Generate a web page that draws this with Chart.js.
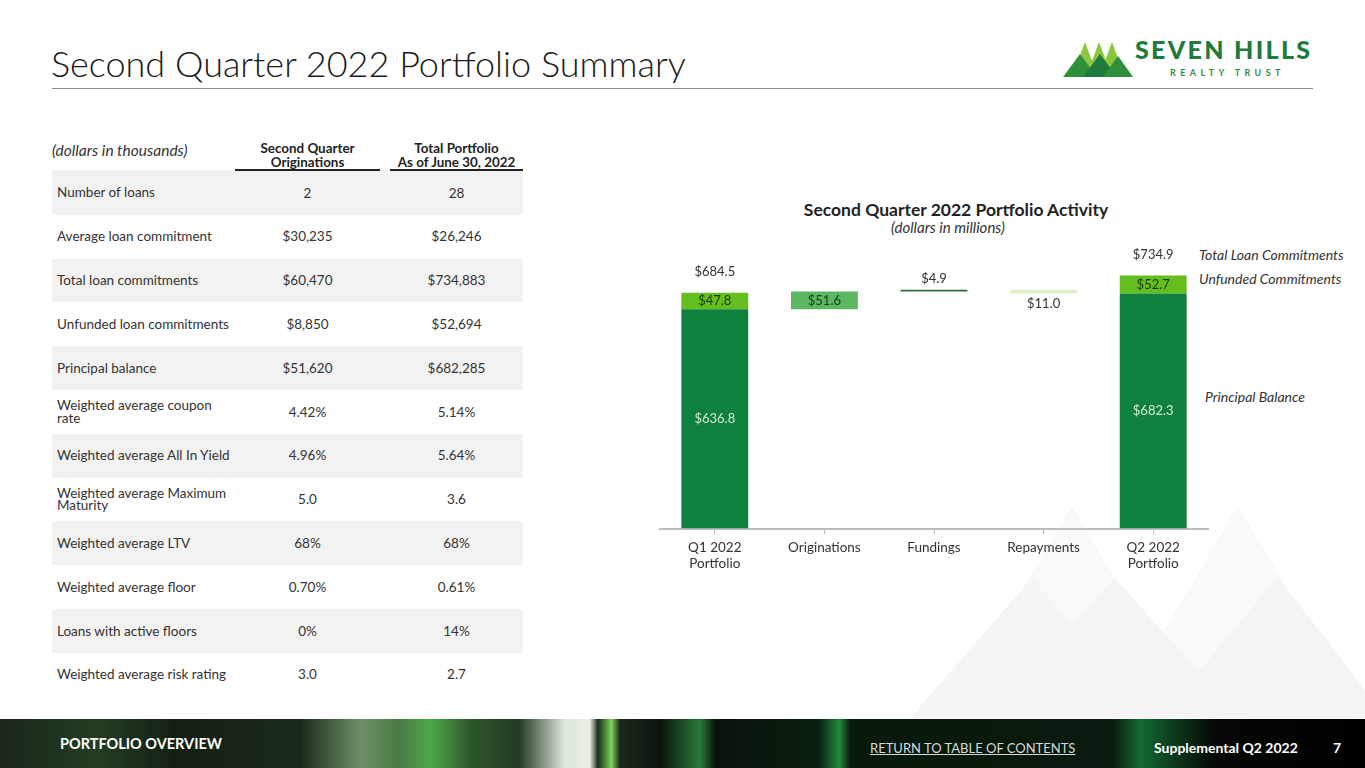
<!DOCTYPE html>
<html lang="en">
<head>
<meta charset="UTF-8">
<title>Second Quarter 2022 Portfolio Summary</title>
<script src="https://cdn.jsdelivr.net/npm/chart.js"></script>
<style>
  html, body { margin: 0; padding: 0; }
  body { width: 1365px; height: 768px; position: relative; overflow: hidden; background: #fff; font-family: Lato, "Noto Sans", sans-serif; color: #333; }
  .abs { position: absolute; white-space: nowrap; }
  #pageTitle { left: 51px; top: 41px; font-size: 36px; color: #1a1a1a; font-weight: 300; }
  #rule { left: 52px; top: 88px; width: 1261px; height: 1px; background: #8a8a8a; }
  #summary { position: absolute; left: 52px; top: 142px; border-collapse: collapse; font-size: 13.5px; color: #333; }
  #summary td, #summary th { padding: 0; }
  #summary th { font-weight: 700; font-size: 13.4px; line-height: 13.5px; vertical-align: bottom; color: #222; }
  #summary th.lbl { font-weight: 400; font-style: italic; text-align: left; font-size: 15.5px; vertical-align: top; line-height: 16px; color: #333; }
  #summary th.u { border-bottom: 2px solid #222; }
  #summary tbody td { height: 43.8px; text-align: center; line-height: 12.5px; }
  #summary tbody td.lbl { text-align: left; padding-left: 5px; }
  #summary tbody tr:nth-child(odd) td { background: #f2f2f2; }
  #chartTitle { left: 756px; width: 400px; text-align: center; top: 199px; font-size: 17.5px; font-weight: 700; color: #222; }
  #chartSub { left: 848px; width: 200px; text-align: center; top: 218px; font-size: 15px; font-style: italic; color: #333; }
  .side { font-size: 14px; font-style: italic; color: #333; }
  #footer { left: 0; top: 719px; width: 1365px; height: 49px;
    background: linear-gradient(90deg, #1a261a 0%, #223d22 7%, #141f14 13%, #1a2a1a 22%, #6f8f68 26.4%, #4a7a44 29.3%, #4fa84a 31.5%, #2e5a2c 34.4%, #223a22 38%, #dfe8dc 41.4%, #e8efe5 43.2%, #1a2a1a 43.8%, #7dd35a 44.8%, #1a2a1a 45.4%, #0c140c 48.4%, #2a7a3a 51.3%, #0a120a 52.4%, #0a1f0f 60%, #1f8a3e 61.5%, #081a0c 62.3%, #0a1a0e 81.5%, #176a35 83.5%, #0c3a1c 86%, #050805 89%, #000 100%); }
  .ft { color: #fff; font-size: 14px; }
</style>
</head>
<body>
<svg class="abs" style="left:0;top:0" width="1365" height="768">
  <!-- faint mountains in the background -->
  <polygon points="947,718 1072,505 1197,718" fill="#f9f9f9"/>
  <polygon points="1113,718 1238,505 1363,718" fill="#f9f9f9"/>
  <polygon points="910,718 1032,578 1154,718" fill="#f5f5f5"/>
  <polygon points="990,718 1115,578 1240,718" fill="#f4f4f4"/>
  <polygon points="1160,718 1278,577 1365,690 1365,718" fill="#f4f4f4"/>
  <!-- logo -->
  <polygon points="1072,77 1085,42 1098,77" fill="#8cc63f"/>
  <polygon points="1086,77 1099,42 1112,77" fill="#8cc63f"/>
  <polygon points="1099,77 1112,42 1125,77" fill="#8cc63f"/>
  <polygon points="1063,77 1080,54 1097,77" fill="#2f8f3a"/>
  <polygon points="1083,77 1100,54 1117,77" fill="#1f7a3c"/>
  <polygon points="1103,77 1118,56 1133,77" fill="#2f8f3a"/>
</svg>
<div class="abs" style="left:1135px;top:34px;font-size:25px;font-weight:900;letter-spacing:2.3px;color:#1f7a3c;">SEVEN HILLS</div>
<div class="abs" style="left:1170px;top:67px;font-size:9px;font-weight:700;letter-spacing:4.4px;color:#3a8a3a;">REALTY TRUST</div>

<div id="pageTitle" class="abs">Second Quarter 2022 Portfolio Summary</div>
<div id="rule" class="abs"></div>

<table id="summary">
  <thead>
    <tr>
      <th class="lbl" style="width:183px">(dollars in thousands)</th>
      <th class="u" style="width:145px">Second Quarter<br>Originations</th>
      <th style="width:10px"></th>
      <th class="u" style="width:133px">Total Portfolio<br>As of June 30, 2022</th>
    </tr>
  </thead>
  <tbody id="summaryBody"></tbody>
</table>

<div id="chartTitle" class="abs">Second Quarter 2022 Portfolio Activity</div>
<div id="chartSub" class="abs">(dollars in millions)</div>
<div class="abs side" style="left:1199px;top:246px;">Total Loan Commitments</div>
<div class="abs side" style="left:1199px;top:270px;">Unfunded Commitments</div>
<div class="abs side" style="left:1205px;top:388px;">Principal Balance</div>

<canvas id="activityChart" class="abs" style="left:640px;top:240px;" width="725" height="337"></canvas>

<div id="footer" class="abs"></div>
<div class="abs ft" style="left:60px;top:735px;font-weight:700;font-size:14.5px;">PORTFOLIO OVERVIEW</div>
<div class="abs ft" style="left:870px;top:740px;color:#d8d8d8;text-decoration:underline;font-size:13px;">RETURN TO TABLE OF CONTENTS</div>
<div class="abs ft" style="left:1154px;top:739px;font-weight:700;">Supplemental Q2 2022</div>
<div class="abs ft" style="left:1333px;top:739px;font-weight:700;">7</div>

<script>
  // table data (dollars in thousands)
  const rowLabels = ['Number of loans', 'Average loan commitment', 'Total loan commitments',
    'Unfunded loan commitments', 'Principal balance', 'Weighted average coupon<br>rate',
    'Weighted average All In Yield', 'Weighted average Maximum<br>Maturity', 'Weighted average LTV',
    'Weighted average floor', 'Loans with active floors', 'Weighted average risk rating'];
  const quarterOriginations = ['2', '$30,235', '$60,470', '$8,850', '$51,620', '4.42%',
    '4.96%', '5.0', '68%', '0.70%', '0%', '3.0'];
  const totalPortfolio = ['28', '$26,246', '$734,883', '$52,694', '$682,285', '5.14%',
    '5.64%', '3.6', '68%', '0.61%', '14%', '2.7'];

  // chart data (dollars in millions)
  const categories = [['Q1 2022', 'Portfolio'], 'Originations', 'Fundings', 'Repayments', ['Q2 2022', 'Portfolio']];
  const principalBalance = [636.8, null, null, null, 682.3];
  const unfundedCommitments = [47.8, null, null, null, 52.7];
  const totalCommitments = [684.5, null, null, null, 734.9];
  const activityChanges = [null, 51.6, 4.9, -11.0, null];
  const activityColors = [null, '#5bb762', '#2f6b3a', '#dcefc9', null];

  const body = document.getElementById('summaryBody');
  rowLabels.forEach((lbl, i) => {
    const tr = document.createElement('tr');
    tr.innerHTML = '<td class="lbl">' + lbl + '</td><td>' + quarterOriginations[i] +
      '</td><td></td><td>' + totalPortfolio[i] + '</td>';
    body.appendChild(tr);
  });

  // floating ranges for the waterfall
  const principalBars = principalBalance.map(v => v == null ? null : [0, v]);
  const unfundedBars = unfundedCommitments.map((v, i) => v == null ? null : [principalBalance[i], principalBalance[i] + v]);
  let level = principalBalance[0];
  const activityBars = activityChanges.map(v => {
    if (v == null) return null;
    const r = [level, level + v];
    level += v;
    return r;
  });

  const money = v => '$' + Math.abs(v).toFixed(1);

  const valueLabels = {
    id: 'valueLabels',
    afterDatasetsDraw(chart) {
      const ctx = chart.ctx;
      ctx.save();
      ctx.font = '13px Lato, "Noto Sans", sans-serif';
      ctx.textAlign = 'center';
      ctx.textBaseline = 'middle';
      chart.data.datasets.forEach((ds, di) => {
        chart.getDatasetMeta(di).data.forEach((bar, i) => {
          const raw = ds.values[i];
          if (raw == null) return;
          const top = Math.min(bar.y, bar.base), bottom = Math.max(bar.y, bar.base);
          if (ds.kind === 'principal') {
            ctx.fillStyle = '#d3ecd5';
            ctx.fillText(money(raw), bar.x, (top + bottom) / 2);
          } else if (ds.kind === 'unfunded') {
            ctx.fillStyle = '#1d3a1d';
            ctx.fillText(money(raw), bar.x, (top + bottom) / 2);
            ctx.fillStyle = '#333';
            ctx.fillText(money(totalCommitments[i]), bar.x, top - 21);
          } else {
            if (bottom - top > 10) {
              ctx.fillStyle = '#1d3a1d';
              ctx.fillText(money(raw), bar.x, (top + bottom) / 2);
            } else if (raw > 0) {
              ctx.fillStyle = '#333';
              ctx.fillText(money(raw), bar.x, top - 11);
            } else {
              ctx.fillStyle = '#333';
              ctx.fillText(money(raw), bar.x, bottom + 10);
            }
          }
        });
      });
      ctx.restore();
    }
  };

  new Chart(document.getElementById('activityChart'), {
    type: 'bar',
    data: {
      labels: categories,
      datasets: [
        { label: 'Principal Balance', kind: 'principal', values: principalBalance, data: principalBars,
          backgroundColor: '#10803f', grouped: false },
        { label: 'Unfunded Commitments', kind: 'unfunded', values: unfundedCommitments, data: unfundedBars,
          backgroundColor: '#64be1e', grouped: false },
        { label: 'Activity', kind: 'activity', values: activityChanges, data: activityBars,
          backgroundColor: activityColors, grouped: false }
      ]
    },
    options: {
      responsive: false,
      animation: false,
      layout: { padding: { left: 20, right: 157, top: 13, bottom: 0 } },
      datasets: { bar: { barPercentage: 0.61, categoryPercentage: 1.0, borderSkipped: false } },
      plugins: { legend: { display: false }, tooltip: { enabled: false }, title: { display: false } },
      scales: {
        x: {
          grid: { display: true, drawOnChartArea: false, drawTicks: true, tickLength: 6, color: '#bdbdbd', offset: false },
          border: { display: true, color: '#bdbdbd', width: 2 },
          ticks: { color: '#333', padding: 5, font: { size: 13.5, family: 'Lato, "Noto Sans", sans-serif' } }
        },
        y: { display: false, min: 0, max: 800 }
      }
    },
    plugins: [valueLabels]
  });
</script>
</body>
</html>
